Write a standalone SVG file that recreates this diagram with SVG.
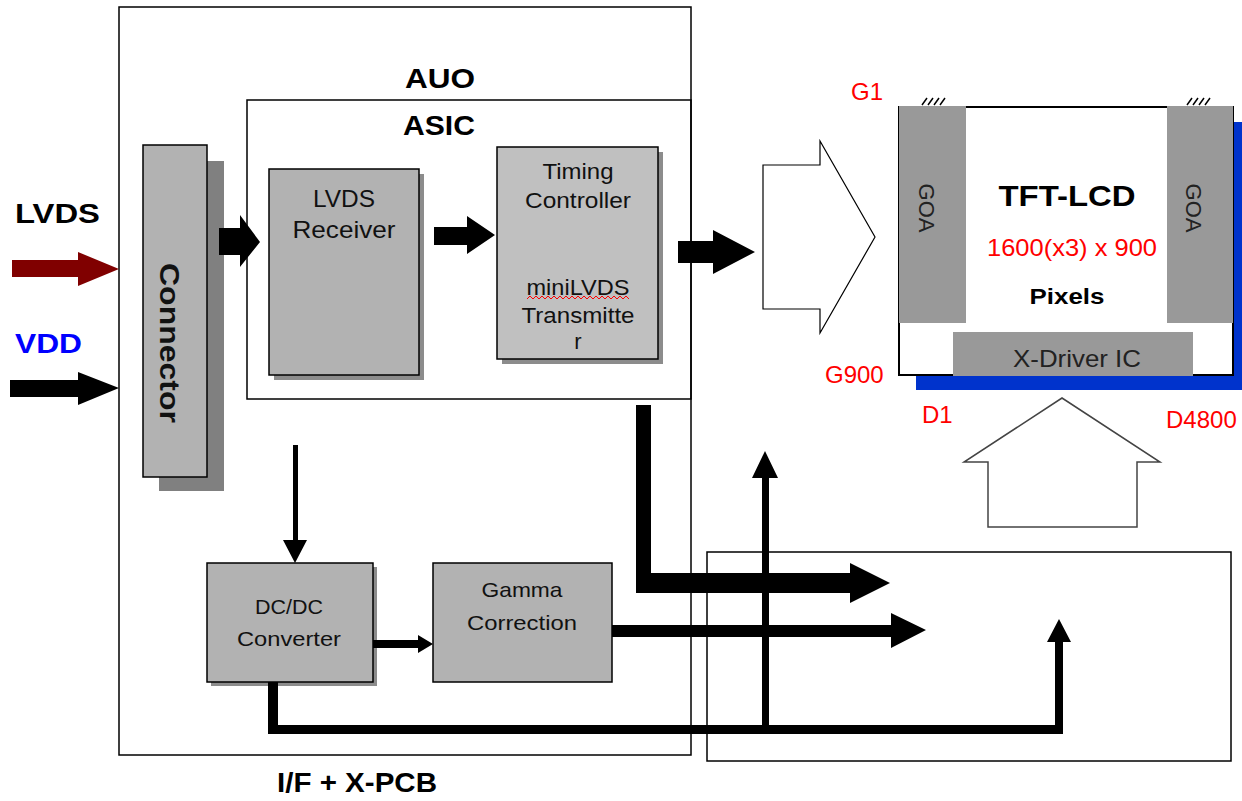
<svg xmlns="http://www.w3.org/2000/svg" width="1242" height="801" viewBox="0 0 1242 801">
<style>
text{font-family:"Liberation Sans",Arial,sans-serif;}
.box{fill:#b2b2b2;stroke:#000;stroke-width:1.5;}
.shadow{fill:#8c8c8c;}
.frame{fill:none;stroke:#000;stroke-width:1.5;}
.lbl{font-size:22px;fill:#111;text-anchor:middle;}
.big{font-size:28px;font-weight:bold;fill:#000;}
.red{font-size:24px;fill:#ff0000;}
.blk{fill:#000;}
</style>
<rect width="1242" height="801" fill="#fff"/>

<g id="if-xpcb">
<rect class="frame" x="119" y="7" width="572" height="748"/>
<text class="big" x="357" y="792" text-anchor="middle" textLength="160" lengthAdjust="spacingAndGlyphs">I/F + X-PCB</text>
<text class="big" x="440" y="88" text-anchor="middle" textLength="70" lengthAdjust="spacingAndGlyphs">AUO</text>
</g>

<g id="asic">
<rect class="frame" x="247" y="100" width="444" height="299"/>
<text class="big" x="439" y="135" text-anchor="middle" textLength="72" lengthAdjust="spacingAndGlyphs">ASIC</text>
</g>

<g id="input-labels">
<text class="big" x="15" y="223" textLength="85" lengthAdjust="spacingAndGlyphs">LVDS</text>
<text class="big" x="15" y="353" fill="#0000ff" style="fill:#0000ff" textLength="67" lengthAdjust="spacingAndGlyphs">VDD</text>
</g>

<g id="connector">
<rect class="shadow" x="159" y="161" width="65" height="330" style="fill:#808080"/>
<rect class="box" x="143" y="145" width="64" height="332"/>
<text transform="translate(170,343) rotate(90)" x="0" y="10" text-anchor="middle" style="font-size:28px;font-weight:bold;fill:#111" textLength="160" lengthAdjust="spacingAndGlyphs">Connector</text>
</g>

<g id="lvds-receiver">
<rect class="shadow" x="274" y="174" width="150" height="206"/>
<rect class="box" x="269" y="169" width="150" height="206"/>
<text class="lbl" x="344" y="207" style="font-size:24px" textLength="62" lengthAdjust="spacingAndGlyphs">LVDS</text>
<text class="lbl" x="344" y="238" style="font-size:24px" textLength="103" lengthAdjust="spacingAndGlyphs">Receiver</text>
</g>

<g id="timing-controller">
<rect class="shadow" x="502" y="152" width="161" height="212"/>
<rect class="box" x="497" y="147" width="161" height="212" style="fill:#c0c0c0"/>
<text class="lbl" x="578" y="179" textLength="71" lengthAdjust="spacingAndGlyphs">Timing</text>
<text class="lbl" x="578" y="208" textLength="106" lengthAdjust="spacingAndGlyphs">Controller</text>
<text class="lbl" x="578" y="295" textLength="103" lengthAdjust="spacingAndGlyphs">miniLVDS</text>
<path d="M527,299 l3,-3 l3,3 l3,-3 l3,3 l3,-3 l3,3 l3,-3 l3,3 l3,-3 l3,3 l3,-3 l3,3 l3,-3 l3,3 l3,-3 l3,3 l3,-3 l3,3 l3,-3 l3,3 l3,-3 l3,3 l3,-3 l3,3 l3,-3 l3,3 l3,-3 l3,3 l3,-3 l3,3 l3,-3 l3,3 l3,-3 l3,3" fill="none" stroke="#ff0000" stroke-width="1"/>
<text class="lbl" x="578" y="323" textLength="113" lengthAdjust="spacingAndGlyphs">Transmitte</text>
<text class="lbl" x="578" y="349">r</text>
</g>

<g id="dcdc-converter">
<rect class="shadow" x="211" y="567" width="166" height="119"/>
<rect class="box" x="207" y="563" width="166" height="119"/>
<text class="lbl" x="289" y="614" style="font-size:21px" textLength="68" lengthAdjust="spacingAndGlyphs">DC/DC</text>
<text class="lbl" x="289" y="646" style="font-size:21px" textLength="104" lengthAdjust="spacingAndGlyphs">Converter</text>
</g>

<g id="gamma-correction">
<rect class="box" x="433" y="563" width="179" height="119"/>
<text class="lbl" x="522" y="597" style="font-size:21px" textLength="81" lengthAdjust="spacingAndGlyphs">Gamma</text>
<text class="lbl" x="522" y="630" style="font-size:21px" textLength="110" lengthAdjust="spacingAndGlyphs">Correction</text>
</g>

<g id="x-board">
<rect class="frame" x="707" y="552" width="524" height="209"/>
</g>

<g id="tft-lcd">
<rect x="916" y="122" width="340" height="268" fill="#0033cc"/>
<rect x="899" y="107" width="334" height="268" fill="#fff" stroke="#000" stroke-width="2"/>
<rect x="899" y="106" width="67" height="217" fill="#999"/>
<rect x="1167" y="106" width="66" height="217" fill="#999"/>
<rect x="953" y="332" width="240" height="44" fill="#999"/>
<g stroke="#000" stroke-width="1.5">
<path d="M922,105 l5,-7 M928,105 l5,-7 M934,105 l5,-7 M940,105 l5,-7"/>
<path d="M1187,105 l5,-7 M1193,105 l5,-7 M1199,105 l5,-7 M1205,105 l5,-7"/>
</g>
<text transform="translate(927,208) rotate(90)" x="0" y="8" text-anchor="middle" style="font-size:22px;fill:#222">GOA</text>
<text transform="translate(1194,208) rotate(90)" x="0" y="8" text-anchor="middle" style="font-size:22px;fill:#222">GOA</text>
<text x="1067" y="206" text-anchor="middle" style="font-size:30px;font-weight:bold;fill:#000" textLength="137" lengthAdjust="spacingAndGlyphs">TFT-LCD</text>
<text x="1072" y="256" text-anchor="middle" style="font-size:24px;fill:#ff0000" textLength="170" lengthAdjust="spacingAndGlyphs">1600(x3) x 900</text>
<text x="1067" y="304" text-anchor="middle" style="font-size:22px;font-weight:bold;fill:#000" textLength="75" lengthAdjust="spacingAndGlyphs">Pixels</text>
<text x="1077" y="367" text-anchor="middle" style="font-size:24px;fill:#222" textLength="128" lengthAdjust="spacingAndGlyphs">X-Driver IC</text>
</g>

<g id="pin-labels">
<text class="red" x="851" y="100" style="fill:#ff0000">G1</text>
<text class="red" x="825" y="383" style="fill:#ff0000">G900</text>
<text class="red" x="922" y="423" style="fill:#ff0000">D1</text>
<text class="red" x="1166" y="428" style="fill:#ff0000">D4800</text>
</g>

<g id="connectors">
<!-- LVDS input -->
<polygon points="12,260 78,260 78,252 119,269 78,286 78,277 12,277" fill="#800000"/>
<!-- VDD input -->
<polygon points="10,380 78,380 78,372 119,388 78,405 78,397 10,397" class="blk"/>
<!-- connector to ASIC -->
<polygon points="219,228 240,228 240,215 260,242 240,267 240,255 219,255" class="blk"/>
<!-- receiver to timing -->
<polygon points="434,227 467,227 467,216 495,235 467,254 467,245 434,245" class="blk"/>
<!-- timing out -->
<polygon points="678,241 713,241 713,230 755,252 713,274 713,263 678,263" class="blk"/>
<!-- hollow right arrow -->
<polygon points="763,165 820,165 820,141 875,237 820,333 820,309 763,309" fill="#fff" stroke="#000" stroke-width="1.2"/>
<!-- hollow up arrow -->
<polygon points="1062,398 1160,462 1137,462 1137,527 988,527 988,462 964,462" fill="#fff" stroke="#444" stroke-width="1.5"/>
<!-- ASIC down then right -->
<polygon points="636,405 651,405 651,573 850,573 850,563 890,583 850,603 850,593 636,593" class="blk"/>
<!-- gamma out -->
<polygon points="612,625 891,625 891,613 926,630 891,648 891,637 612,637" class="blk"/>
<!-- bottom bus -->
<polygon points="268,682 278,682 278,725 762,725 762,478 752,478 765,451 778,478 769,478 769,725 1055,725 1055,642 1047,642 1059,619 1071,642 1063,642 1063,734 268,734" class="blk"/>
<!-- thin down arrow into DC/DC -->
<polygon points="293,445 298,445 298,540 307,540 295,563 283,540 293,540" class="blk"/>
<!-- DC/DC to gamma -->
<polygon points="373,640 418,640 418,635 433,644 418,653 418,648 373,648" class="blk"/>
</g>
</svg>
